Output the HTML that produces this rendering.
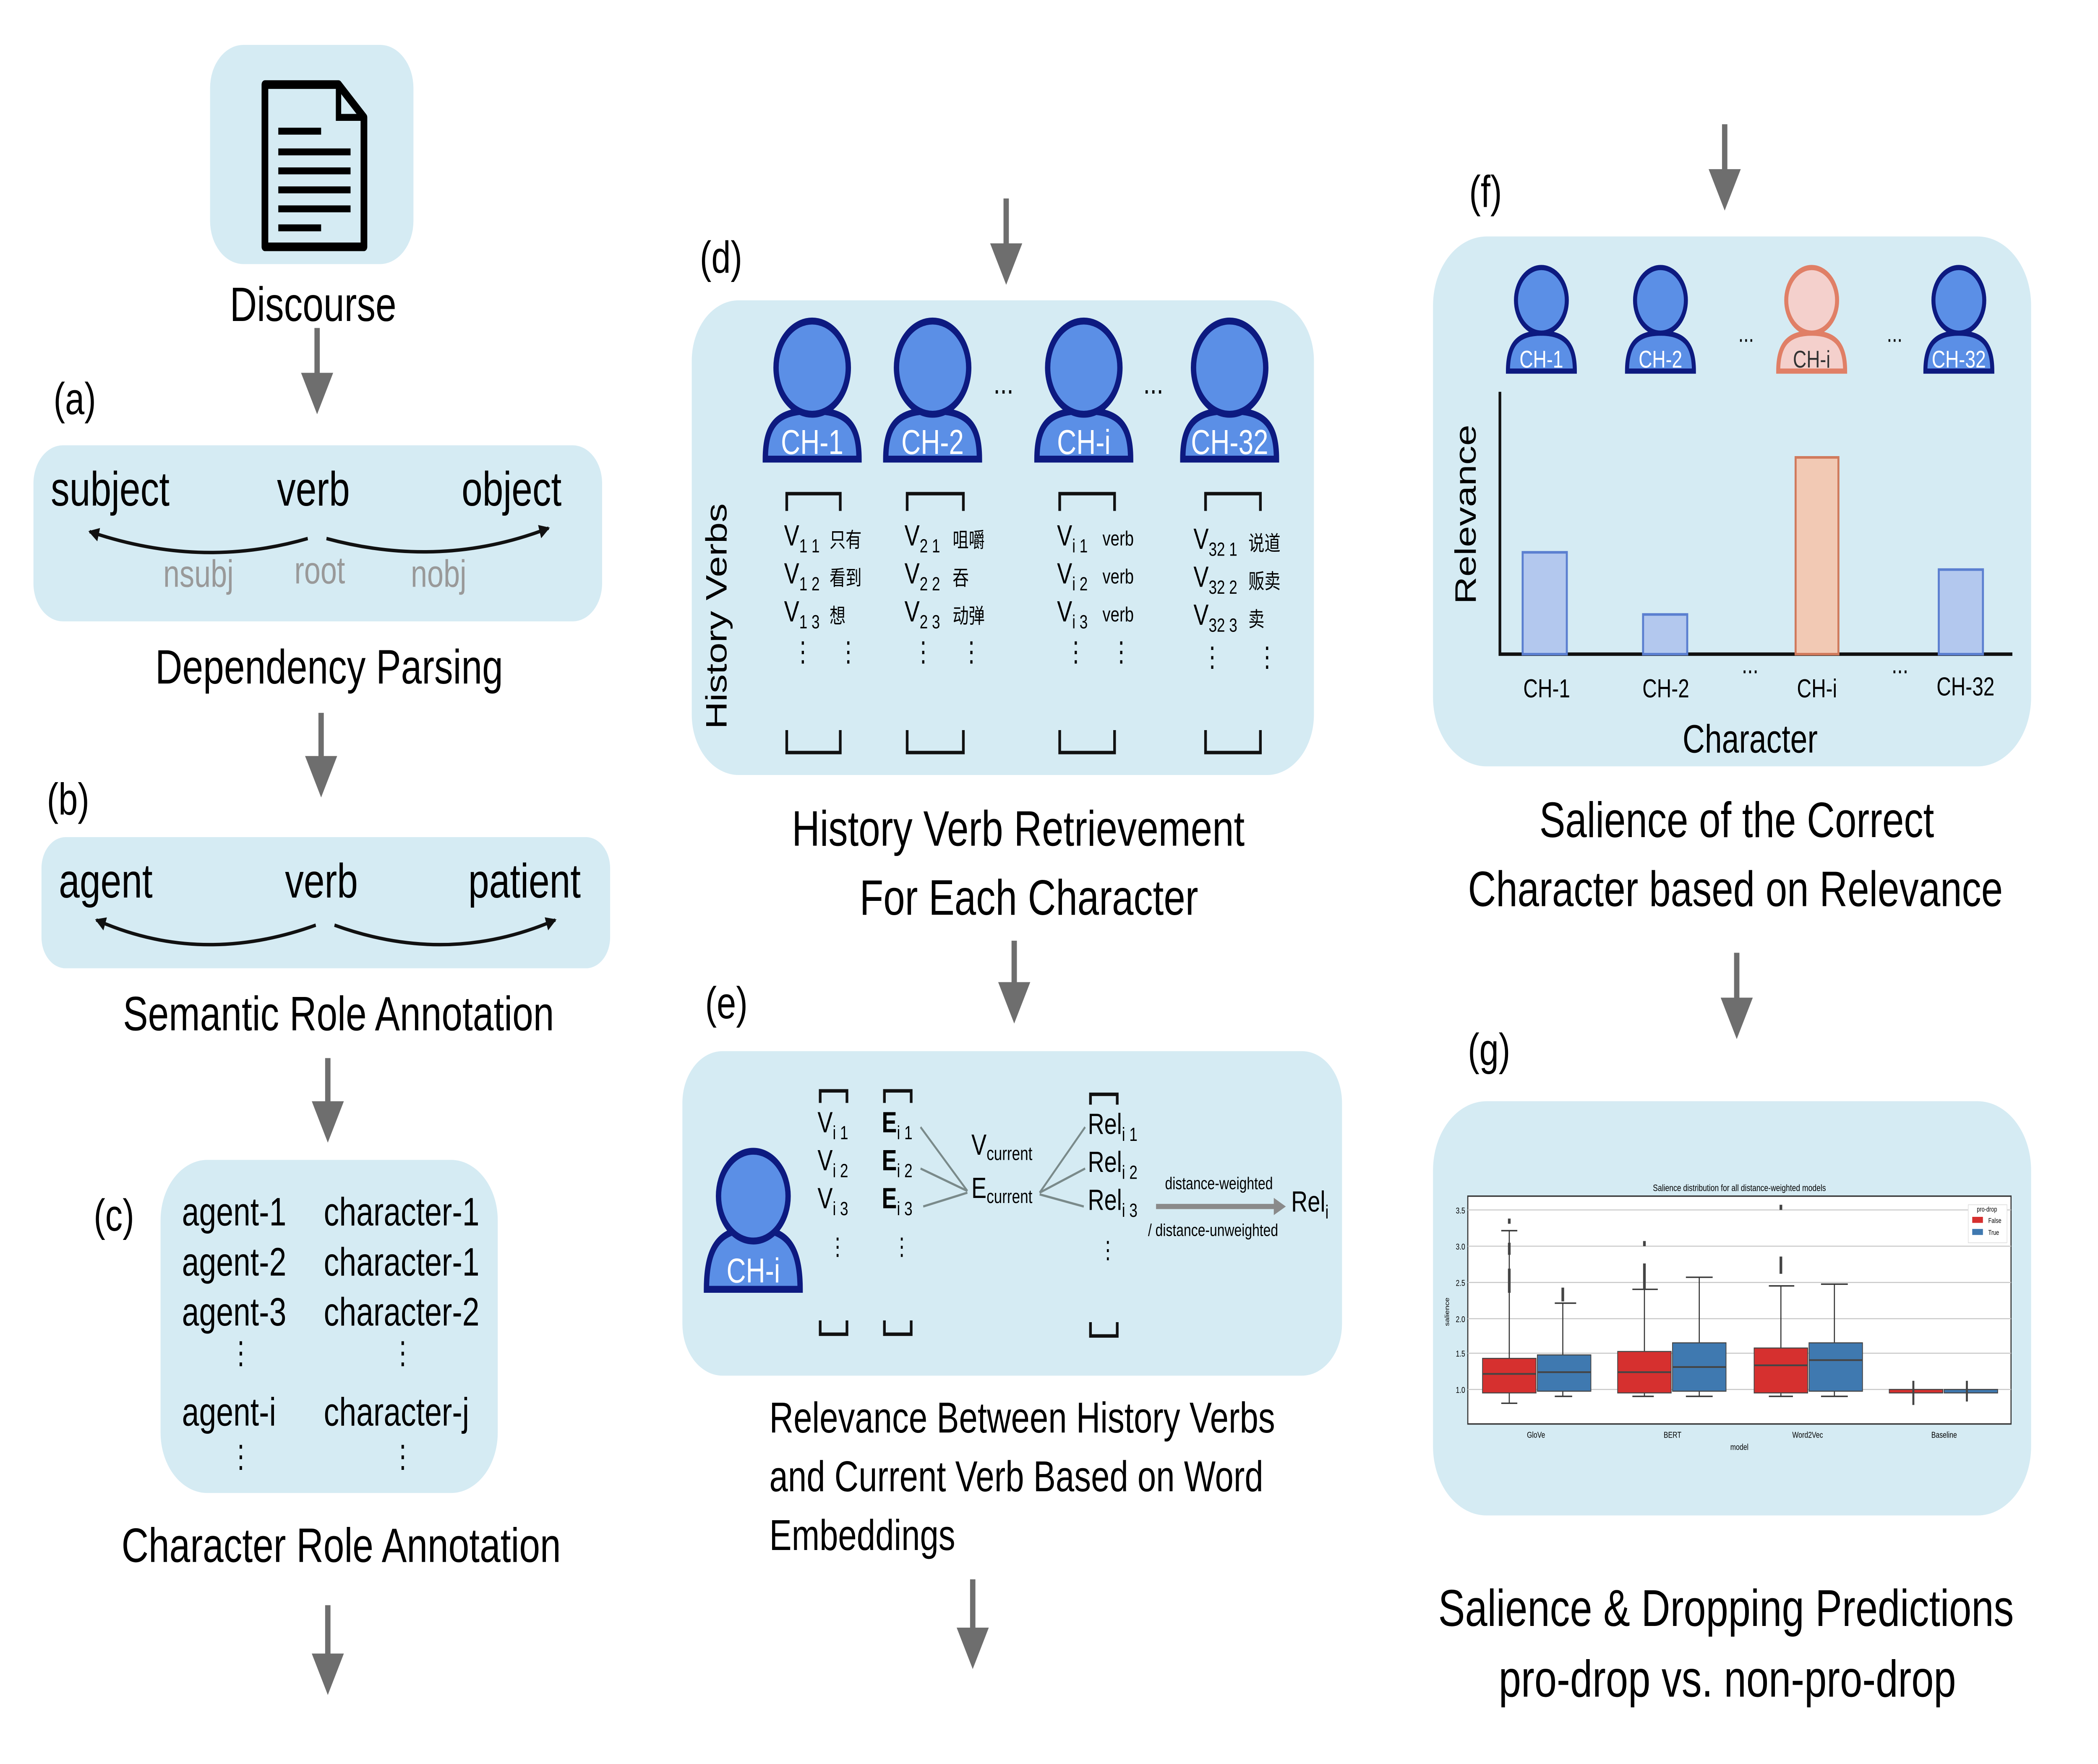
<!DOCTYPE html>
<html><head><meta charset="utf-8"><style>
html,body{margin:0;padding:0;background:#fff;width:100%;height:100%;overflow:hidden;}
svg{display:block;width:100vw;height:100vh;}
text{font-family:"Liberation Sans","Noto Sans CJK SC",sans-serif;}
</style></head><body>
<svg viewBox="0 0 1568 1022" preserveAspectRatio="none" xmlns="http://www.w3.org/2000/svg">
<defs>
<marker id="ah" markerWidth="6" markerHeight="6" refX="5" refY="3" orient="auto" markerUnits="strokeWidth"><path d="M0,0 L6,3 L0,6 Z" fill="#6e6e6e"/></marker>
<marker id="bk" markerWidth="8" markerHeight="8" refX="7" refY="4" orient="auto" markerUnits="userSpaceOnUse"><path d="M0,0 L8,4 L0,8 Z" fill="#111"/></marker>
<g id="pbig"><path d="M-35,26 C-35,5 -25,-2 0,-2 C25,-2 35,5 35,26 Z" fill="#5b8fe6" stroke="#0d1a80" stroke-width="4"/><circle cx="0" cy="-27" r="27" fill="#5b8fe6" stroke="#0d1a80" stroke-width="4"/></g>
<g id="psm"><path d="M-25,18 C-25,2 -17,-4 0,-4 C17,-4 25,2 25,18 Z" fill="#5b8fe6" stroke="#0d1a80" stroke-width="3"/><circle cx="0" cy="-23" r="19" fill="#5b8fe6" stroke="#0d1a80" stroke-width="3"/></g>
</defs>
<g fill="none" stroke="#6e6e6e" stroke-width="4" marker-end="url(#ah)">
<line x1="237" y1="190" x2="237" y2="236"/><line x1="240" y1="413" x2="240" y2="458"/><line x1="245" y1="613" x2="245" y2="658"/><line x1="245" y1="930" x2="245" y2="978"/>
<line x1="752" y1="115" x2="752" y2="161"/><line x1="758" y1="545" x2="758" y2="589"/><line x1="727" y1="915" x2="727" y2="963"/>
<line x1="1289" y1="72" x2="1289" y2="118"/><line x1="1298" y1="552" x2="1298" y2="598"/>
</g>
<rect x="157" y="26" width="152" height="127" rx="25" fill="#d5ebf3"/>
<path d="M198,49 H253 L272,68 V143 H198 Z" fill="none" stroke="#000" stroke-width="5" stroke-linejoin="round"/>
<path d="M253,49 V68 H272" fill="none" stroke="#000" stroke-width="4"/>
<g stroke="#000" stroke-width="4"><line x1="208" y1="76" x2="240" y2="76"/><line x1="208" y1="88" x2="262" y2="88"/><line x1="208" y1="99" x2="262" y2="99"/><line x1="208" y1="110" x2="262" y2="110"/><line x1="208" y1="121" x2="262" y2="121"/><line x1="208" y1="132" x2="240" y2="132"/></g>
<text x="234" y="186" font-size="28" text-anchor="middle">Discourse</text>
<text x="40" y="240" font-size="26">(a)</text>
<rect x="25" y="258" width="425" height="102" rx="22" fill="#d5ebf3"/>
<text x="38" y="293" font-size="28">subject</text><text x="207" y="293" font-size="28">verb</text><text x="345" y="293" font-size="28">object</text>
<path d="M230,312 Q150,330 67,308" fill="none" stroke="#111" stroke-width="2" marker-end="url(#bk)"/>
<path d="M244,312 Q330,330 410,306" fill="none" stroke="#111" stroke-width="2" marker-end="url(#bk)"/>
<g fill="#999" font-size="22"><text x="122" y="340">nsubj</text><text x="220" y="338">root</text><text x="307" y="340">nobj</text></g>
<text x="246" y="396" font-size="28" text-anchor="middle">Dependency Parsing</text>
<text x="35" y="472" font-size="26">(b)</text>
<rect x="31" y="485" width="425" height="76" rx="18" fill="#d5ebf3"/>
<text x="44" y="520" font-size="28">agent</text><text x="213" y="520" font-size="28">verb</text><text x="350" y="520" font-size="28">patient</text>
<path d="M236,536 Q150,560 72,533" fill="none" stroke="#111" stroke-width="2" marker-end="url(#bk)"/>
<path d="M250,536 Q335,560 415,533" fill="none" stroke="#111" stroke-width="2" marker-end="url(#bk)"/>
<text x="253" y="597" font-size="28" text-anchor="middle">Semantic Role Annotation</text>
<text x="70" y="713" font-size="26">(c)</text>
<rect x="120" y="672" width="252" height="193" rx="35" fill="#d5ebf3"/>
<g font-size="23"><text x="136" y="710">agent-1</text><text x="242" y="710">character-1</text>
<text x="136" y="739">agent-2</text><text x="242" y="739">character-1</text>
<text x="136" y="768">agent-3</text><text x="242" y="768">character-2</text>
<text x="136" y="826">agent-i</text><text x="242" y="826">character-j</text></g>
<g font-size="18"><text x="171" y="790">⋮</text><text x="292" y="790">⋮</text><text x="171" y="850">⋮</text><text x="292" y="850">⋮</text></g>
<text x="255" y="905" font-size="28" text-anchor="middle">Character Role Annotation</text>
<text x="523" y="158" font-size="26">(d)</text>
<rect x="517" y="174" width="465" height="275" rx="35" fill="#d5ebf3"/>
<use href="#pbig" x="607" y="240"/><use href="#pbig" x="697" y="240"/><use href="#pbig" x="810" y="240"/><use href="#pbig" x="919" y="240"/>
<g fill="#fff" font-size="20" text-anchor="middle"><text x="607" y="263">CH-1</text><text x="697" y="263">CH-2</text><text x="810" y="263">CH-i</text><text x="919" y="263">CH-32</text></g>
<text x="750" y="228" font-size="18" text-anchor="middle">...</text><text x="862" y="228" font-size="18" text-anchor="middle">...</text>
<text transform="translate(543,357) rotate(-90)" font-size="22" text-anchor="middle">History Verbs</text>
<g fill="none" stroke="#111" stroke-width="2">
<path d="M588,296 V286 H628 V296"/><path d="M678,296 V286 H720 V296"/><path d="M792,296 V286 H833 V296"/><path d="M901,296 V286 H942 V296"/>
<path d="M588,423 V436 H628 V423"/><path d="M678,423 V436 H720 V423"/><path d="M792,423 V436 H833 V423"/><path d="M901,423 V436 H942 V423"/>
</g>
<g font-size="17">
<text x="586" y="316">V<tspan font-size="11" dy="4">1 1</tspan></text><text x="586" y="338">V<tspan font-size="11" dy="4">1 2</tspan></text><text x="586" y="360">V<tspan font-size="11" dy="4">1 3</tspan></text>
<text x="676" y="316">V<tspan font-size="11" dy="4">2 1</tspan></text><text x="676" y="338">V<tspan font-size="11" dy="4">2 2</tspan></text><text x="676" y="360">V<tspan font-size="11" dy="4">2 3</tspan></text>
<text x="790" y="316">V<tspan font-size="11" dy="4">i 1</tspan></text><text x="790" y="338">V<tspan font-size="11" dy="4">i 2</tspan></text><text x="790" y="360">V<tspan font-size="11" dy="4">i 3</tspan></text>
<text x="892" y="318">V<tspan font-size="11" dy="4">32 1</tspan></text><text x="892" y="340">V<tspan font-size="11" dy="4">32 2</tspan></text><text x="892" y="362">V<tspan font-size="11" dy="4">32 3</tspan></text>
</g>
<g font-size="12"><text x="620" y="317">只有</text><text x="620" y="339">看到</text><text x="620" y="361">想</text>
<text x="712" y="317">咀嚼</text><text x="712" y="339">吞</text><text x="712" y="361">动弹</text>
<text x="824" y="316">verb</text><text x="824" y="338">verb</text><text x="824" y="360">verb</text>
<text x="933" y="319">说道</text><text x="933" y="341">贩卖</text><text x="933" y="363">卖</text></g>
<g font-size="16"><text x="592" y="383">⋮</text><text x="626" y="383">⋮</text><text x="682" y="383">⋮</text><text x="718" y="383">⋮</text><text x="796" y="383">⋮</text><text x="830" y="383">⋮</text><text x="898" y="386">⋮</text><text x="939" y="386">⋮</text></g>
<text x="761" y="490" font-size="29" text-anchor="middle">History Verb Retrievement</text>
<text x="769" y="530" font-size="29" text-anchor="middle">For Each Character</text>
<text x="527" y="590" font-size="26">(e)</text>
<rect x="510" y="609" width="493" height="188" rx="30" fill="#d5ebf3"/>
<g transform="translate(563,714)"><path d="M-35,33 C-35,5 -22,-2 0,-2 C22,-2 35,5 35,33 Z" fill="#5b8fe6" stroke="#0d1a80" stroke-width="4"/><circle cx="0" cy="-21" r="26" fill="#5b8fe6" stroke="#0d1a80" stroke-width="4"/></g>
<text x="563" y="743" font-size="20" fill="#fff" text-anchor="middle">CH-i</text>
<g fill="none" stroke="#111" stroke-width="2">
<path d="M613,639 V632 H633 V639"/><path d="M661,639 V632 H681 V639"/><path d="M815,640 V634 H835 V640"/>
<path d="M613,765 V773 H633 V765"/><path d="M661,765 V773 H681 V765"/><path d="M815,766 V774 H835 V766"/>
</g>
<g font-size="17">
<text x="611" y="656">V<tspan font-size="11" dy="4">i 1</tspan></text><text x="611" y="678">V<tspan font-size="11" dy="4">i 2</tspan></text><text x="611" y="700">V<tspan font-size="11" dy="4">i 3</tspan></text>
<text x="659" y="656" font-weight="bold">E<tspan font-size="11" font-weight="normal" dy="4">i 1</tspan></text><text x="659" y="678" font-weight="bold">E<tspan font-size="11" font-weight="normal" dy="4">i 2</tspan></text><text x="659" y="700" font-weight="bold">E<tspan font-size="11" font-weight="normal" dy="4">i 3</tspan></text>
<text x="726" y="669">V<tspan font-size="11" dy="3">current</tspan></text><text x="726" y="694">E<tspan font-size="11" dy="3">current</tspan></text>
<text x="813" y="657">Rel<tspan font-size="11" dy="4">i 1</tspan></text><text x="813" y="679">Rel<tspan font-size="11" dy="4">i 2</tspan></text><text x="813" y="701">Rel<tspan font-size="11" dy="4">i 3</tspan></text>
<text x="965" y="702">Rel<tspan font-size="11" dy="4">i</tspan></text>
</g>
<g font-size="14"><text x="619" y="727">⋮</text><text x="667" y="727">⋮</text><text x="821" y="729">⋮</text></g>
<g stroke="#7a8a8a" stroke-width="1.3"><line x1="688" y1="653" x2="723" y2="690"/><line x1="688" y1="677" x2="723" y2="690"/><line x1="690" y1="699" x2="723" y2="691"/>
<line x1="777" y1="691" x2="811" y2="653"/><line x1="777" y1="691" x2="811" y2="677"/><line x1="777" y1="692" x2="810" y2="699"/></g>
<line x1="864" y1="699" x2="954" y2="699" stroke="#8a8a8a" stroke-width="3"/><path d="M952,694 L961,699 L952,704 Z" fill="#8a8a8a"/>
<text x="911" y="689" font-size="10" text-anchor="middle">distance-weighted</text>
<text x="858" y="716" font-size="10">/ distance-unweighted</text>
<g font-size="25"><text x="575" y="830">Relevance Between History Verbs</text><text x="575" y="864">and Current Verb Based on Word</text><text x="575" y="898">Embeddings</text></g>
<text x="1098" y="120" font-size="26">(f)</text>
<rect x="1071" y="137" width="447" height="307" rx="40" fill="#d5ebf3"/>
<use href="#psm" x="1152" y="197"/><use href="#psm" x="1241" y="197"/><use href="#psm" x="1464" y="197"/>
<g transform="translate(1354,197)"><path d="M-25,18 C-25,2 -17,-4 0,-4 C17,-4 25,2 25,18 Z" fill="#f4d0cc" stroke="#e07f66" stroke-width="3"/><circle cx="0" cy="-23" r="19" fill="#f4d0cc" stroke="#e07f66" stroke-width="3"/></g>
<g font-size="14" text-anchor="middle"><text x="1152" y="213" fill="#fff">CH-1</text><text x="1241" y="213" fill="#fff">CH-2</text><text x="1354" y="213" fill="#333">CH-i</text><text x="1464" y="213" fill="#fff">CH-32</text></g>
<text x="1305" y="198" font-size="14" text-anchor="middle">...</text><text x="1416" y="198" font-size="14" text-anchor="middle">...</text>
<path d="M1121,227 V379 H1504" fill="none" stroke="#111" stroke-width="2"/>
<g fill="#b3c8ee" stroke="#5b7fd0" stroke-width="1.5"><rect x="1138" y="320" width="33" height="59"/><rect x="1228" y="356" width="33" height="23"/><rect x="1449" y="330" width="33" height="49"/></g>
<rect x="1342" y="265" width="32" height="114" fill="#f2c9b4" stroke="#d07a5c" stroke-width="1.5"/>
<g font-size="15" text-anchor="middle"><text x="1156" y="404">CH-1</text><text x="1245" y="404">CH-2</text><text x="1358" y="404">CH-i</text><text x="1469" y="403">CH-32</text><text x="1308" y="390">...</text><text x="1420" y="390">...</text></g>
<text transform="translate(1103,298) rotate(-90)" font-size="22" text-anchor="middle">Relevance</text>
<text x="1308" y="436" font-size="23" text-anchor="middle">Character</text>
<text x="1298" y="485" font-size="29" text-anchor="middle">Salience of the Correct</text>
<text x="1297" y="525" font-size="29" text-anchor="middle">Character based on Relevance</text>
<text x="1097" y="617" font-size="26">(g)</text>
<rect x="1071" y="638" width="447" height="240" rx="40" fill="#d5ebf3"/>
<rect x="1097" y="693" width="406" height="132" fill="#fff" stroke="#333" stroke-width="0.8"/>
<g stroke="#c8c8c8" stroke-width="0.6"><line x1="1097" y1="701" x2="1503" y2="701"/><line x1="1097" y1="722" x2="1503" y2="722"/><line x1="1097" y1="743" x2="1503" y2="743"/><line x1="1097" y1="764" x2="1503" y2="764"/><line x1="1097" y1="784" x2="1503" y2="784"/><line x1="1097" y1="805" x2="1503" y2="805"/></g>
<g font-size="5" text-anchor="end"><text x="1095" y="703">3.5</text><text x="1095" y="724">3.0</text><text x="1095" y="745">2.5</text><text x="1095" y="766">2.0</text><text x="1095" y="786">1.5</text><text x="1095" y="807">1.0</text></g>
<text x="1300" y="690" font-size="5.5" text-anchor="middle">Salience distribution for all distance-weighted models</text>
<text transform="translate(1083,760) rotate(-90)" font-size="4.5" text-anchor="middle">salience</text>
<g font-size="5" text-anchor="middle"><text x="1148" y="833">GloVe</text><text x="1250" y="833">BERT</text><text x="1351" y="833">Word2Vec</text><text x="1453" y="833">Baseline</text><text x="1300" y="840">model</text></g>
<g stroke="#333" stroke-width="0.8">
<line x1="1128" y1="787" x2="1128" y2="713"/><line x1="1122" y1="713" x2="1134" y2="713"/><line x1="1128" y1="807" x2="1128" y2="813"/><line x1="1122" y1="813" x2="1134" y2="813"/>
<line x1="1168" y1="785" x2="1168" y2="755"/><line x1="1162" y1="755" x2="1178" y2="755"/><line x1="1168" y1="806" x2="1168" y2="809"/><line x1="1162" y1="809" x2="1175" y2="809"/>
<line x1="1229" y1="783" x2="1229" y2="747"/><line x1="1220" y1="747" x2="1239" y2="747"/><line x1="1229" y1="807" x2="1229" y2="809"/><line x1="1220" y1="809" x2="1236" y2="809"/>
<line x1="1270" y1="778" x2="1270" y2="740"/><line x1="1260" y1="740" x2="1280" y2="740"/><line x1="1270" y1="806" x2="1270" y2="809"/><line x1="1260" y1="809" x2="1280" y2="809"/>
<line x1="1331" y1="781" x2="1331" y2="745"/><line x1="1322" y1="745" x2="1341" y2="745"/><line x1="1331" y1="807" x2="1331" y2="809"/><line x1="1322" y1="809" x2="1340" y2="809"/>
<line x1="1371" y1="778" x2="1371" y2="744"/><line x1="1361" y1="744" x2="1381" y2="744"/><line x1="1371" y1="806" x2="1371" y2="809"/><line x1="1361" y1="809" x2="1381" y2="809"/>
</g>
<g stroke="#444" stroke-width="0.6">
<rect x="1108" y="787" width="40" height="20" fill="#d6302f"/><rect x="1149" y="785" width="40" height="21" fill="#3f79b0"/>
<rect x="1209" y="783" width="40" height="24" fill="#d6302f"/><rect x="1250" y="778" width="40" height="28" fill="#3f79b0"/>
<rect x="1311" y="781" width="40" height="26" fill="#d6302f"/><rect x="1352" y="778" width="40" height="28" fill="#3f79b0"/>
<rect x="1412" y="805" width="40" height="2" fill="#d6302f"/><rect x="1453" y="805" width="40" height="2" fill="#3f79b0"/>
</g>
<g stroke="#444" stroke-width="1"><line x1="1108" y1="796" x2="1148" y2="796"/><line x1="1149" y1="795" x2="1189" y2="795"/><line x1="1209" y1="795" x2="1249" y2="795"/><line x1="1250" y1="792" x2="1290" y2="792"/><line x1="1311" y1="791" x2="1351" y2="791"/><line x1="1352" y1="788" x2="1392" y2="788"/>
<line x1="1430" y1="800" x2="1430" y2="814" stroke-width="1.5"/><line x1="1470" y1="800" x2="1470" y2="812" stroke-width="1.5"/></g>
<g fill="#444"><rect x="1127" y="735" width="2" height="14"/><rect x="1127" y="720" width="2" height="7"/><rect x="1127" y="706" width="2" height="3"/><rect x="1167" y="746" width="2" height="8"/><rect x="1228" y="732" width="2" height="15"/><rect x="1228" y="719" width="2" height="3"/><rect x="1330" y="728" width="2" height="10"/><rect x="1330" y="698" width="2" height="3"/></g>
<rect x="1471" y="698" width="29" height="22" fill="#fff" stroke="#ddd" stroke-width="0.4"/>
<text x="1485" y="702" font-size="4" text-anchor="middle">pro-drop</text>
<rect x="1474" y="705" width="8" height="3.5" fill="#d6302f"/><text x="1486" y="708.5" font-size="4">False</text>
<rect x="1474" y="712" width="8" height="3.5" fill="#3f79b0"/><text x="1486" y="715.5" font-size="4">True</text>
<text x="1290" y="942" font-size="30" text-anchor="middle">Salience &amp; Dropping Predictions</text>
<text x="1291" y="983" font-size="30" text-anchor="middle">pro-drop vs. non-pro-drop</text>
</svg>
</body></html>
